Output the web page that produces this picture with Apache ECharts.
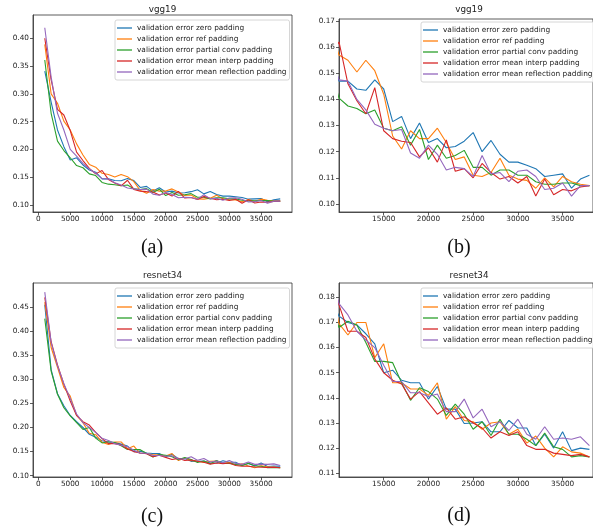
<!DOCTYPE html>
<html><head><meta charset="utf-8">
<script src="https://cdn.jsdelivr.net/npm/echarts@6/dist/echarts.min.js"></script>
<style>html,body{margin:0;padding:0;background:#fff}#c{width:593px;height:529px}</style>
</head><body><div id="c"></div>
<script>
const steps = [1000,2000,3000,4000,5000,6000,7000,8000,9000,10000,11000,12000,13000,14000,15000,16000,17000,18000,19000,20000,21000,22000,23000,24000,25000,26000,27000,28000,29000,30000,31000,32000,33000,34000,35000,36000,37000,38000];
const seriesNames = ["validation error zero padding","validation error ref padding","validation error partial conv padding","validation error mean interp padding","validation error mean reflection padding"];

const vggZero = [0.341,0.285,0.235,0.205,0.181,0.185,0.172,0.163,0.159,0.147,0.147,0.144,0.1435,0.1475,0.144,0.1315,0.1335,0.125,0.131,0.1235,0.125,0.1215,0.122,0.124,0.1273,0.120,0.1243,0.119,0.116,0.116,0.1148,0.1135,0.1105,0.111,0.1115,0.106,0.1095,0.111];
const vggRef = [0.389,0.30,0.283,0.251,0.235,0.21,0.19,0.173,0.168,0.157,0.155,0.1505,0.155,0.151,0.142,0.126,0.121,0.128,0.125,0.125,0.129,0.1235,0.117,0.118,0.111,0.1105,0.112,0.1175,0.111,0.1095,0.109,0.106,0.110,0.1065,0.1105,0.1085,0.1075,0.107];
const vggPartial = [0.361,0.265,0.215,0.198,0.185,0.171,0.167,0.156,0.153,0.1405,0.1375,0.1365,0.1345,0.136,0.129,0.128,0.1295,0.1225,0.1285,0.117,0.1225,0.1175,0.1185,0.1205,0.114,0.114,0.111,0.113,0.113,0.111,0.111,0.1085,0.1075,0.1075,0.108,0.108,0.107,0.107];
const vggInterp = [0.40,0.325,0.272,0.262,0.234,0.195,0.18,0.166,0.156,0.162,0.146,0.1395,0.1345,0.1445,0.128,0.125,0.124,0.1235,0.118,0.1215,0.116,0.1245,0.1125,0.1135,0.110,0.1155,0.112,0.1095,0.1105,0.108,0.1105,0.103,0.1095,0.1035,0.1055,0.105,0.1065,0.107];
const vggReflect = [0.419,0.33,0.265,0.235,0.20,0.188,0.175,0.165,0.157,0.1475,0.147,0.140,0.136,0.1305,0.129,0.128,0.1285,0.1195,0.1175,0.1225,0.119,0.113,0.114,0.1135,0.1105,0.1185,0.1115,0.112,0.1085,0.1125,0.113,0.1105,0.1055,0.106,0.108,0.103,0.107,0.107];

const resZero = [0.455,0.32,0.27,0.245,0.225,0.212,0.20,0.186,0.18,0.1725,0.170,0.169,0.1655,0.1615,0.150,0.151,0.147,0.146,0.146,0.1395,0.1445,0.1355,0.1355,0.1298,0.130,0.1305,0.1265,0.1265,0.131,0.128,0.128,0.121,0.1255,0.120,0.1265,0.119,0.120,0.1195];
const resRef = [0.46,0.366,0.325,0.283,0.265,0.225,0.21,0.188,0.185,0.1695,0.165,0.170,0.170,0.156,0.1615,0.146,0.146,0.1435,0.1435,0.141,0.146,0.1315,0.1365,0.131,0.1305,0.1275,0.130,0.1305,0.1255,0.1275,0.122,0.1248,0.120,0.1165,0.1205,0.1185,0.118,0.1165];
const resPartial = [0.426,0.317,0.269,0.241,0.224,0.21,0.196,0.20,0.178,0.168,0.1705,0.169,0.162,0.1545,0.1545,0.154,0.146,0.139,0.144,0.1425,0.1395,0.133,0.1375,0.1335,0.1275,0.1305,0.125,0.1315,0.1255,0.1255,0.1235,0.121,0.126,0.1205,0.1195,0.1165,0.117,0.1165];
const resInterp = [0.47,0.378,0.33,0.29,0.255,0.225,0.212,0.205,0.19,0.177,0.1665,0.1665,0.164,0.1555,0.150,0.147,0.1455,0.1395,0.1425,0.138,0.1335,0.136,0.1315,0.1325,0.130,0.128,0.124,0.1265,0.125,0.1265,0.121,0.1195,0.1195,0.118,0.1175,0.117,0.1175,0.1165];
const resReflect = [0.481,0.376,0.328,0.291,0.26,0.228,0.21,0.20,0.19,0.1775,0.173,0.1665,0.163,0.160,0.153,0.1465,0.1465,0.142,0.142,0.1405,0.1415,0.1345,0.1345,0.1395,0.132,0.1355,0.1285,0.1305,0.127,0.1315,0.1255,0.1235,0.1285,0.1235,0.124,0.1235,0.1245,0.121];

const xTicksFull = [0,5000,10000,15000,20000,25000,30000,35000];
const xTicksZoom = [15000,20000,25000,30000,35000];
const yTicksA = [0.10,0.15,0.20,0.25,0.30,0.35,0.40];
const yTicksB = [0.10,0.11,0.12,0.13,0.14,0.15,0.16,0.17];
const yTicksC = [0.10,0.15,0.20,0.25,0.30,0.35,0.40,0.45];
const yTicksD = [0.11,0.12,0.13,0.14,0.15,0.16,0.17,0.18];
const titles = ["vgg19","vgg19","resnet34","resnet34"];
const captions = ["(a)","(b)","(c)","(d)"];

const colors = ['#1f77b4','#ff7f0e','#2ca02c','#d62728','#9467bd'];
const vggSets = [vggZero,vggRef,vggPartial,vggInterp,vggReflect];
const resSets = [resZero,resRef,resPartial,resInterp,resReflect];

const FONT = '"DejaVu Sans", sans-serif';
const grids = [
  {left:33, top:15, width:259, height:197},
  {left:339, top:19, width:260, height:193},
  {left:33, top:283, width:259, height:194},
  {left:339, top:283, width:260, height:194}
];
const xRanges = [[-850,39850],[10000,38400],[-850,39850],[10000,38400]];
const yRanges = [[0.0874,0.4419],[0.0969,0.1708],[0.0973,0.4998],[0.1085,0.1857]];
const xTickSets = [xTicksFull,xTicksZoom,xTicksFull,xTicksZoom];
const yTickSets = [yTicksA,yTicksB,yTicksC,yTicksD];
const titleY = [14,14,280,280];

const axisColor = '#333';
const option = {
  animation:false,
  backgroundColor:'#fff',
  grid: grids.map(g=>Object.assign({show:true, borderColor:axisColor, borderWidth:0.8, backgroundColor:'transparent', containLabel:false}, g)),
  xAxis: grids.map((g,i)=>({
    type:'value', gridIndex:i, min:xRanges[i][0], max:xRanges[i][1],
    splitLine:{show:false},
    axisLine:{show:true, onZero:false, lineStyle:{color:axisColor,width:0.8}},
    axisTick:{show:true, length:3, lineStyle:{color:axisColor,width:0.8}, customValues:xTickSets[i]},
    axisLabel:{show:true, margin:4, fontSize:7.3, fontFamily:FONT, color:'#222', customValues:xTickSets[i], formatter:v=>String(v)}
  })),
  yAxis: grids.map((g,i)=>({
    type:'value', gridIndex:i, min:yRanges[i][0], max:yRanges[i][1],
    splitLine:{show:false},
    axisLine:{show:true, onZero:false, lineStyle:{color:axisColor,width:0.8}},
    axisTick:{show:true, length:3, lineStyle:{color:axisColor,width:0.8}, customValues:yTickSets[i]},
    axisLabel:{show:true, margin:4, fontSize:7.3, fontFamily:FONT, color:'#222', customValues:yTickSets[i], formatter:v=>v.toFixed(2)}
  })),
  legend: [
    {left:115, top:20},
    {left:421, top:22},
    {left:115, top:288},
    {left:421, top:288}
  ].map(p=>Object.assign({
    orient:'vertical', data:seriesNames, icon:'rect', itemWidth:15, itemHeight:1.3, itemGap:0,
    padding:[2.5,3,2.5,2], backgroundColor:'rgba(255,255,255,0.85)', borderColor:'#cccccc', borderWidth:0.8, borderRadius:2,
    textStyle:{fontSize:7.4, fontFamily:FONT, color:'#222', lineHeight:11}, selectedMode:false
  }, p)),
  series: [],
  graphic: []
};
[vggSets, vggSets, resSets, resSets].forEach((sets, gi)=>{
  sets.forEach((vals, si)=>{
    option.series.push({
      type:'line', name:seriesNames[si], xAxisIndex:gi, yAxisIndex:gi,
      data: steps.map((s,k)=>[s, vals[k]]),
      showSymbol:false, symbol:'none', clip:true,
      lineStyle:{color:colors[si], width:1.1}, itemStyle:{color:colors[si]}
    });
  });
});
grids.forEach((g,i)=>{
  option.graphic.push({type:'text', x:g.left+g.width/2, y:titleY[i], silent:true,
    style:{text:titles[i], font:'8.8px "DejaVu Sans"', fill:'#222', align:'center', verticalAlign:'bottom', textAlign:'center', textVerticalAlign:'bottom'}});
});
const capPos = [[152,248],[459,248],[152,517],[459,516]];
capPos.forEach((p,i)=>{
  option.graphic.push({type:'text', x:p[0], y:p[1], silent:true,
    style:{text:captions[i], font:'20px "Liberation Serif"', fill:'#111', align:'center', verticalAlign:'middle', textAlign:'center', textVerticalAlign:'middle'}});
});
const chart = echarts.init(document.getElementById('c'), null, {renderer:'canvas'});
chart.setOption(option);
</script></body></html>
